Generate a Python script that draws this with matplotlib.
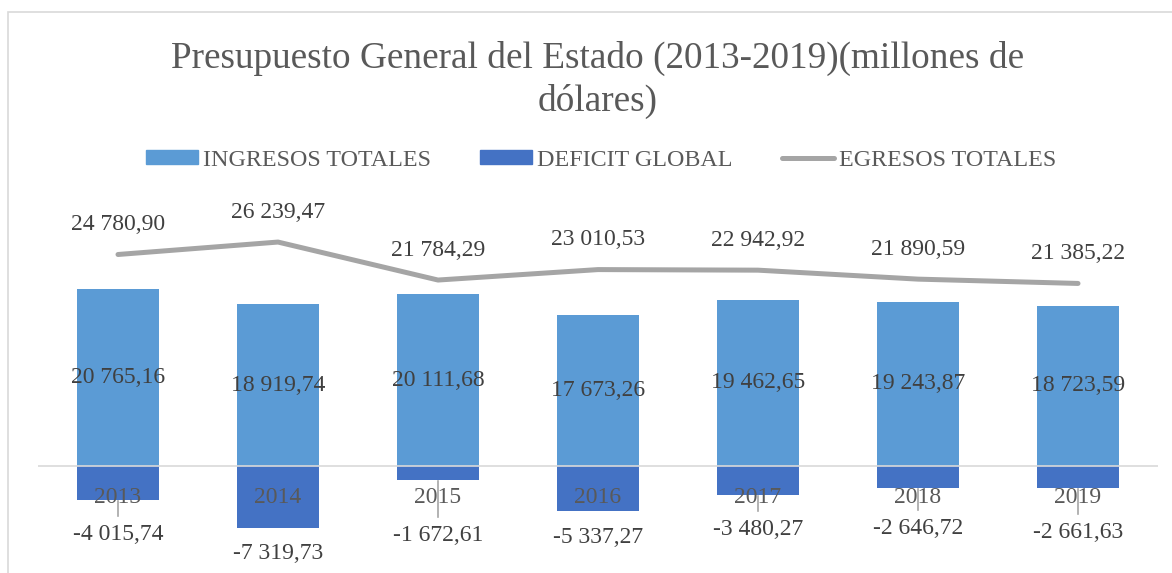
import matplotlib.pyplot as plt
from matplotlib.patches import Rectangle, Patch
from matplotlib.lines import Line2D
from matplotlib.transforms import offset_copy

plt.rcParams['font.family'] = ['Liberation Serif', 'DejaVu Serif']

# Data (millones de dólares)
years = ["2013", "2014", "2015", "2016", "2017", "2018", "2019"]
ingresos = [20765.16, 18919.74, 20111.68, 17673.26, 19462.65, 19243.87, 18723.59]
deficit = [-4015.74, -7319.73, -1672.61, -5337.27, -3480.27, -2646.72, -2661.63]
egresos = [24780.90, 26239.47, 21784.29, 23010.53, 22942.92, 21890.59, 21385.22]

# label placement of the (hand-moved) deficit labels, points below bar end
def_label_off = [25, 18, 40, 19, 24.5, 29, 32]
has_leader = [True, False, True, False, True, True, True]

def fmt(v):
    s = f"{abs(v):,.2f}".replace(",", " ").replace(".", ",")
    return ("-" if v < 0 else "") + s

c_ing = "#5B9BD5"
c_def = "#4472C4"
c_egr = "#A5A5A5"
c_txt = "#404040"
c_lab = "#595959"

fig = plt.figure(figsize=(11.72, 5.73), dpi=100)
ax = fig.add_axes([38 / 1172, 1 - 551 / 573, 1120 / 1172, 341 / 573])

x = list(range(len(years)))
ax.bar(x, ingresos, width=0.5125, color=c_ing, zorder=2)
ax.bar(x, deficit, width=0.5125, color=c_def, zorder=2)
ax.axhline(0, color="#D9D9D9", lw=1.2, zorder=3)
ax.plot(x, egresos, color=c_egr, lw=3.6, solid_capstyle="round",
        solid_joinstyle="round", zorder=4)

ax.set_xlim(-0.5, len(years) - 0.5)
ax.set_ylim(-10000, 30000)
ax.axis("off")

fs = 17
for i in x:
    ax.text(i, ingresos[i] / 2, fmt(ingresos[i]), ha="center", va="center",
            fontsize=fs, color=c_txt, zorder=5)
    ax.annotate(fmt(egresos[i]), (i, egresos[i]), xytext=(0, 21.6),
                textcoords="offset points", ha="center", va="center",
                fontsize=fs, color=c_txt, zorder=5)
    ax.annotate(fmt(deficit[i]), (i, deficit[i]), xytext=(0, -def_label_off[i]),
                textcoords="offset points", ha="center", va="center",
                fontsize=fs, color=c_txt, annotation_clip=False, zorder=5)
    ax.annotate(years[i], (i, 0), xytext=(0, -23), textcoords="offset points",
                ha="center", va="center", fontsize=fs, color=c_lab, zorder=5)
    if has_leader[i]:
        tr_top = offset_copy(ax.transData, fig=fig, x=0, y=-0.7, units="points")
        tr_bot = offset_copy(ax.transData, fig=fig, x=0,
                             y=-(def_label_off[i] - 13.5), units="points")
        p0 = tr_top.transform((i, deficit[i]))
        p1 = tr_bot.transform((i, deficit[i]))
        fig.add_artist(Line2D([p0[0], p1[0]], [p0[1], p1[1]], transform=None,
                              color="#A6A6A6", lw=1.2, zorder=6))

# title
fig.text(598 / 1172, 1 - 68 / 573,
         "Presupuesto General del Estado (2013-2019)(millones de",
         ha="center", va="baseline", fontsize=26.8, color=c_lab)
fig.text(598 / 1172, 1 - 111 / 573, "dólares)",
         ha="center", va="baseline", fontsize=26.8, color=c_lab)

# legend
handles = [Patch(color=c_ing, label="INGRESOS TOTALES"),
           Patch(color=c_def, label="DEFICIT GLOBAL"),
           Line2D([], [], color=c_egr, lw=3.6, solid_capstyle="round",
                  label="EGRESOS TOTALES")]
fig.legend(handles=handles, loc="center", bbox_to_anchor=(601 / 1172, 1 - 160 / 573),
           ncol=3, frameon=False, fontsize=17.3, labelcolor=c_lab,
           handlelength=2.15, handleheight=0.5, handletextpad=0.22,
           columnspacing=2.05, borderpad=0, borderaxespad=0)

# chart area border
fig.add_artist(Rectangle((8 / 1172, -0.1), 2, 1.1 - 12 / 573,
                         transform=fig.transFigure, fill=False,
                         edgecolor="#D9D9D9", lw=1.2))

fig.savefig("out.png", dpi=100)
